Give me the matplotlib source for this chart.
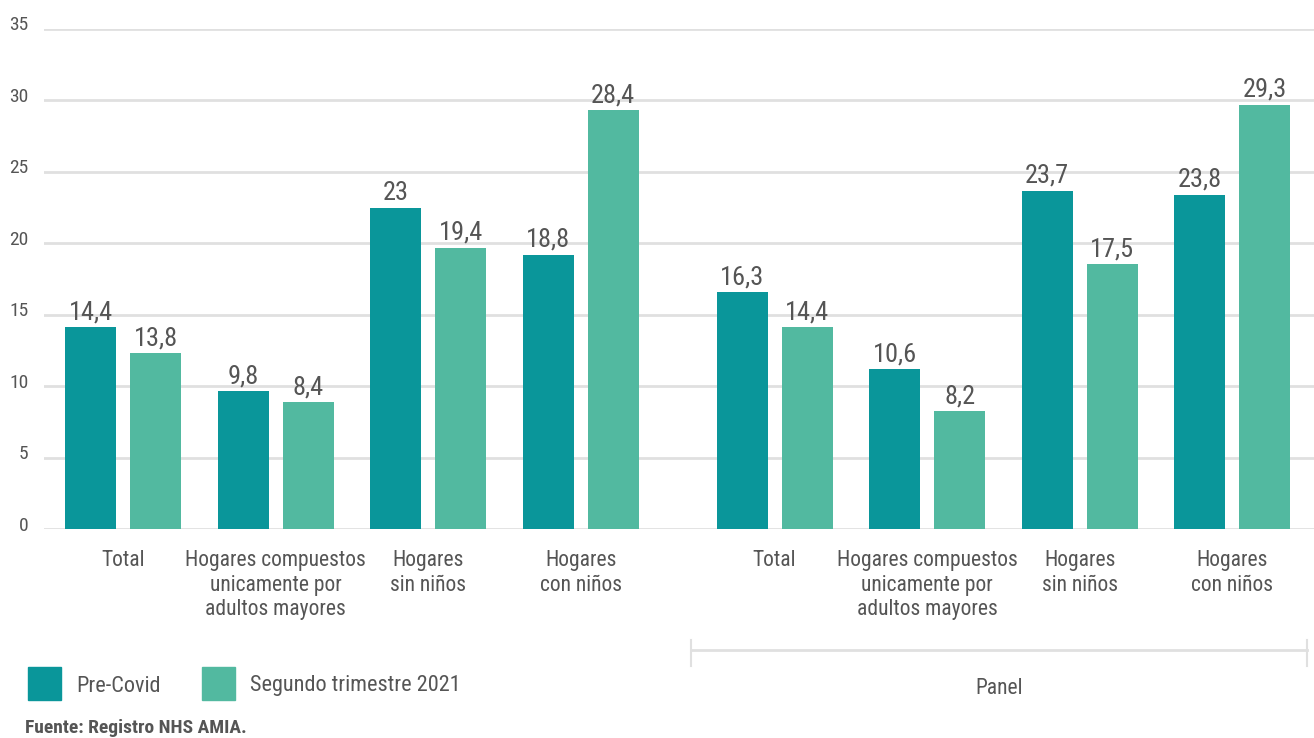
import matplotlib
matplotlib.use("Agg")
import matplotlib.pyplot as plt
from matplotlib import font_manager
from matplotlib.font_manager import FontProperties
from matplotlib.textpath import TextPath
from matplotlib.patches import Rectangle
from matplotlib.lines import Line2D
import matplotlib.transforms as mtransforms
import numpy as np

# data
categories = ["Total", "Hogares compuestos\nunicamente por\nadultos mayores",
              "Hogares\nsin niños", "Hogares\ncon niños"] * 2
pre_covid = [14.15, 9.67, 22.5, 19.2, 16.6, 11.2, 23.7, 23.4]
segundo_trim = [12.33, 8.9, 19.7, 29.3, 14.15, 8.27, 18.55, 29.7]
pre_covid_labels = ["14,4", "9,8", "23", "18,8", "16,3", "10,6", "23,7", "23,8"]
segundo_labels = ["13,8", "8,4", "19,4", "28,4", "14,4", "8,2", "17,5", "29,3"]
yticks = [0, 5, 10, 15, 20, 25, 30, 35]
series_names = ["Pre-Covid", "Segundo trimestre 2021"]
panel_label = "Panel"
source = "Fuente: Registro NHS AMIA."

c_pre = "#0a969a"
c_seg = "#52b9a0"
txt = "#555555"
grid_c = "#e0e0e0"


def text_w(s, fp, size):
    return TextPath((0, 0), s, size=size, prop=fp).get_extents().width


# the original uses a condensed DIN-like face: take the narrowest of a few candidates
wanted = ["Roboto Condensed", "Liberation Sans Narrow", "DejaVu Sans", "Roboto", "Lato",
          "Liberation Sans", "Noto Sans", "Open Sans"]
cands = [f for f in font_manager.fontManager.ttflist
         if f.name in wanted and f.style == "normal" and f.weight in (400, "normal", "regular")]
best, best_w = None, 1e9
for f in cands[:20]:
    try:
        w = text_w("Hogares compuestos", FontProperties(fname=f.fname), 10)
    except Exception:
        continue
    if 0 < w < best_w:
        best, best_w = f, w

if best is None:
    fam, stretch = "DejaVu Sans", "normal"
else:
    fam, stretch = best.name, best.stretch


def prop(size, weight="normal"):
    return FontProperties(family=[fam, "DejaVu Sans"], stretch=stretch, weight=weight, size=size)


p_cat = prop(15.5)
p_val = prop(19)
p_tick = prop(14)
p_leg = prop(16)
p_panel = prop(15.5)
p_src = prop(14, "bold")

W, H = 1314, 738
fig = plt.figure(figsize=(W / 100, H / 100), dpi=100)
ax = fig.add_axes([44 / W, 1 - 529.3 / H, 1270 / W, (529.3 - 29) / H])

gap = 0.27
x = np.r_[np.arange(4), np.arange(4) + 4 + gap]
off = 0.213
bw = 0.334

ax.set_ylim(0, 35)
ax.set_xlim(-0.518, 7.805)
ax.set_yticks(yticks)
ax.yaxis.grid(True, color=grid_c, lw=2, zorder=0)
ax.set_axisbelow(True)
for s in ax.spines.values():
    s.set_visible(False)
ax.set_xticks([])
ax.tick_params(axis="y", length=0, pad=11, labelcolor=txt)
shift = mtransforms.ScaledTranslation(0, 4 / 72, fig.dpi_scale_trans)
for lab in ax.get_yticklabels():
    lab.set_fontproperties(p_tick)
    lab.set_transform(lab.get_transform() + shift)

ax.bar(x - off, pre_covid, bw, color=c_pre, zorder=2)
ax.bar(x + off, segundo_trim, bw, color=c_seg, zorder=2)

lift = mtransforms.offset_copy(ax.transData, fig=fig, y=8, units="dots")
for xi, v, l in zip(x - off, pre_covid, pre_covid_labels):
    ax.text(xi, v, l, transform=lift, ha="center", va="baseline", fontproperties=p_val, color=txt)
for xi, v, l in zip(x + off, segundo_trim, segundo_labels):
    ax.text(xi, v, l, transform=lift, ha="center", va="baseline", fontproperties=p_val, color=txt)

blend = mtransforms.blended_transform_factory(ax.transData, fig.transFigure)
for xi, c in zip(x, categories):
    ax.text(xi, 1 - 550 / H, c, transform=blend, ha="center", va="top",
            fontproperties=p_cat, color=txt, linespacing=1.22)

# panel bracket
bx0, bx1 = x[4] - 0.55, x[7] + 0.49
ax.add_line(Line2D([bx0, bx1], [1 - 650 / H] * 2, transform=blend, color=grid_c, lw=2, clip_on=False))
for bx in (bx0, bx1):
    ax.add_line(Line2D([bx, bx], [1 - 640 / H, 1 - 666 / H], transform=blend, color=grid_c, lw=1.5, clip_on=False))
ax.text((bx0 + bx1) / 2, 1 - 688 / H, panel_label, transform=blend, ha="center", va="center",
        fontproperties=p_panel, color=txt)

# legend
for (x0, tx), col, name in zip([(28, 76), (202, 250)], [c_pre, c_seg], series_names):
    fig.patches.append(Rectangle((x0 / W, 1 - 700 / H), 33 / W, 33 / H,
                                 transform=fig.transFigure, color=col))
    fig.text(tx / W, 1 - 686 / H, name, ha="left", va="center", fontproperties=p_leg, color=txt)

fig.text(25 / W, 1 - 728 / H, source, ha="left", va="center", fontproperties=p_src, color=txt)

fig.savefig("out.png", dpi=100)
